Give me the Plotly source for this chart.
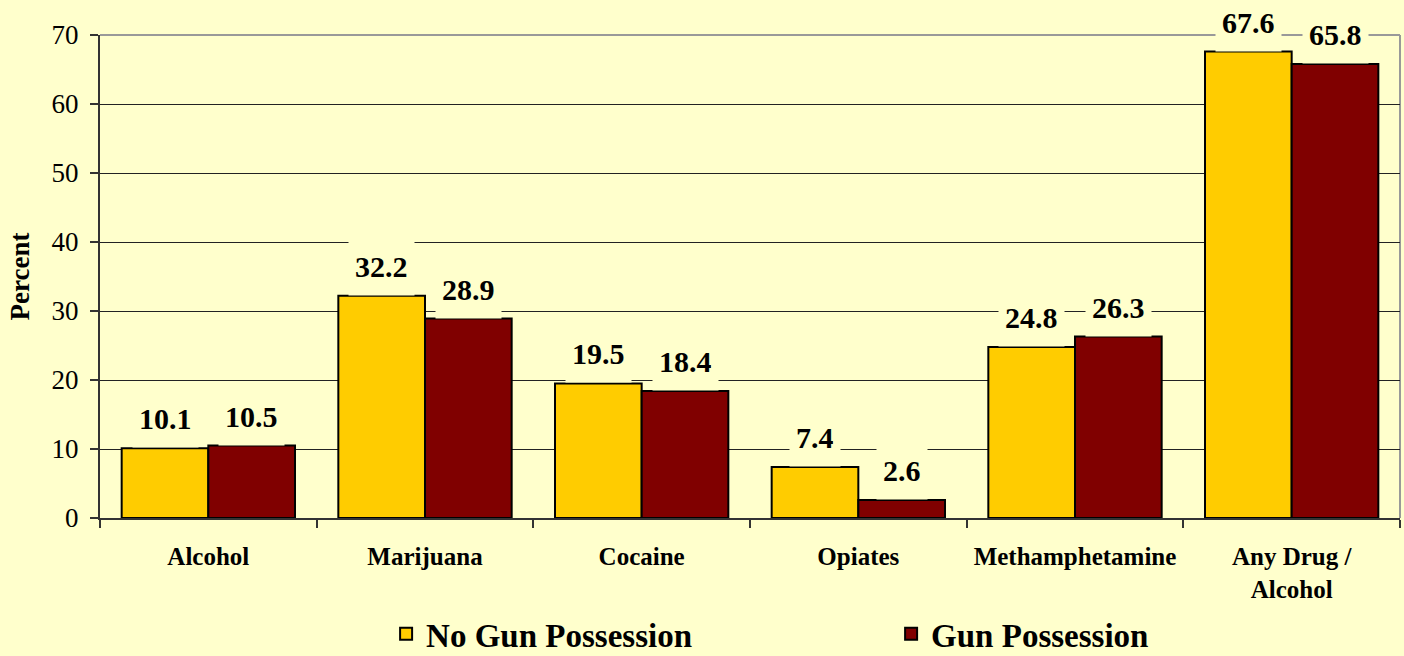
import plotly.graph_objects as go

categories = ["Alcohol", "Marijuana", "Cocaine", "Opiates", "Methamphetamine", "Any Drug /<br>Alcohol"]
no_gun = [10.1, 32.2, 19.5, 7.4, 24.8, 67.6]
gun = [10.5, 28.9, 18.4, 2.6, 26.3, 65.8]
series_names = ["No Gun Possession", "Gun Possession"]
y_ticks = [0, 10, 20, 30, 40, 50, 60, 70]

BG = "#FFFFCC"
YELLOW = "#FFCC00"
RED = "#800000"
SERIF = "Liberation Serif, Times New Roman, serif"

fig = go.Figure()
fig.add_trace(go.Bar(x=categories, y=no_gun, name=series_names[0],
                     marker=dict(color=YELLOW, line=dict(color="#000000", width=2))))
fig.add_trace(go.Bar(x=categories, y=gun, name=series_names[1],
                     marker=dict(color=RED, line=dict(color="#000000", width=2))))

annotations = []
for i, (a, b) in enumerate(zip(no_gun, gun)):
    for off, v in ((-0.2, a), (0.2, b)):
        annotations.append(dict(
            x=i + off, y=v, xref="x", yref="y", text=f"{v:.1f}",
            showarrow=False, yanchor="bottom", xanchor="center",
            font=dict(family=SERIF, size=30, color="#000000", weight="bold"),
            bgcolor=BG, borderpad=6, height=46, valign="middle"))

fig.update_layout(
    width=1404, height=656,
    paper_bgcolor=BG, plot_bgcolor=BG,
    barmode="group", bargap=0.2, bargroupgap=0,
    margin=dict(l=100, r=4, t=35, b=138),
    font=dict(family=SERIF, color="#000000"),
    annotations=annotations,
    showlegend=True,
    legend=dict(orientation="h", xref="container", yref="container",
                x=0.275, y=0.034, xanchor="left", yanchor="middle",
                entrywidth=460, entrywidthmode="pixels",
                font=dict(family=SERIF, size=33, color="#000000", weight="bold"),
                bgcolor="rgba(0,0,0,0)"),
    xaxis=dict(showline=True, linecolor="#333333", linewidth=2,
               ticks="outside", tickson="boundaries", ticklen=8, tickcolor="#333333",
               tickwidth=1.5,
               tickfont=dict(family=SERIF, size=25, color="#000000", weight="bold"),
               ticklabelstandoff=15, showgrid=False),
    yaxis=dict(range=[0, 70], tickvals=y_ticks, showline=True, linecolor="#333333",
               linewidth=2, ticks="outside", ticklen=8, tickcolor="#333333", tickwidth=1.5,
               tickfont=dict(family=SERIF, size=27, color="#000000"),
               showgrid=True, gridcolor="#222222", gridwidth=1, zeroline=False,
               ticklabelstandoff=6,
               title=dict(text="Percent", standoff=14,
                          font=dict(family=SERIF, size=27, color="#000000", weight="bold"))),
    shapes=[
        dict(type="line", xref="paper", yref="paper", x0=0, x1=1, y0=1, y1=1,
             line=dict(color="#999999", width=2), layer="below"),
        dict(type="line", xref="paper", yref="paper", x0=1, x1=1, y0=0, y1=1,
             line=dict(color="#999999", width=2), layer="below"),
    ],
)

fig.write_html("out.html", config={"displayModeBar": False},
               post_script="document.body.style.margin='0';document.body.style.overflow='hidden';")
